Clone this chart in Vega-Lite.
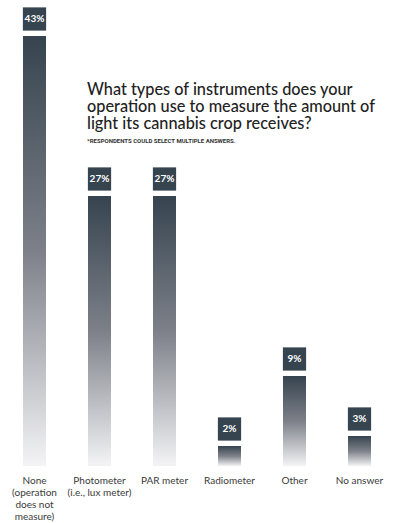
{
  "$schema": "https://vega.github.io/schema/vega-lite/v6.json",
  "width": 390,
  "height": 460,
  "autosize": {"type": "none"},
  "padding": {"left": 2, "top": 6, "right": 8, "bottom": 57},
  "background": "white",
  "config": {"view": {"stroke": null}},
  "title": {
    "text": ["What types of instruments does your", "operation use to measure the amount of", "light its cannabis crop receives?"],
    "subtitle": "*RESPONDENTS COULD SELECT MULTIPLE ANSWERS.",
    "anchor": "start",
    "frame": "group",
    "orient": "top",
    "offset": -138,
    "dx": 85,
    "font": "Lato",
    "fontSize": 16.3,
    "fontWeight": 500,
    "lineHeight": 17,
    "color": "#222222",
    "subtitleFont": "Roboto",
    "subtitleFontSize": 6,
    "subtitleFontWeight": "bold",
    "subtitleColor": "#333333",
    "subtitlePadding": 6
  },
  "data": {
    "values": [
      {"cat": "None|(operation|does not|measure)", "value": 43, "label": "43%"},
      {"cat": "Photometer|(i.e., lux meter)", "value": 27, "label": "27%"},
      {"cat": "PAR meter", "value": 27, "label": "27%"},
      {"cat": "Radiometer", "value": 2, "label": "2%"},
      {"cat": "Other", "value": 9, "label": "9%"},
      {"cat": "No answer", "value": 3, "label": "3%"}
    ]
  },
  "encoding": {
    "x": {
      "field": "cat",
      "type": "nominal",
      "sort": null,
      "scale": {"paddingInner": 0.646, "paddingOuter": 0.323},
      "axis": {
        "title": null,
        "domain": false,
        "ticks": false,
        "labelAngle": 0,
        "labelPadding": 9,
        "labelFont": "Lato",
        "labelFontSize": 10,
        "labelColor": "#3a3a3a",
        "labelLineHeight": 12,
        "labelExpr": "split(datum.label, '|')"
      }
    },
    "y": {
      "field": "value",
      "type": "quantitative",
      "scale": {"domain": [0, 46], "nice": false},
      "axis": null
    }
  },
  "layer": [
    {
      "mark": {
        "type": "bar",
        "width": 23,
        "fill": {
          "gradient": "linear",
          "x1": 0, "y1": 0, "x2": 0, "y2": 1,
          "stops": [
            {"offset": 0, "color": "#36444f"},
            {"offset": 0.5, "color": "#7d8089"},
            {"offset": 1, "color": "#f4f4f6"}
          ]
        }
      }
    },
    {
      "mark": {"type": "point", "shape": "square", "filled": true, "size": 540, "color": "#36444f", "opacity": 1, "yOffset": -17}
    },
    {
      "mark": {"type": "text", "color": "white", "font": "Lato", "fontWeight": "bold", "fontSize": 10, "baseline": "middle", "align": "center", "yOffset": -17},
      "encoding": {"text": {"field": "label"}}
    }
  ]
}
